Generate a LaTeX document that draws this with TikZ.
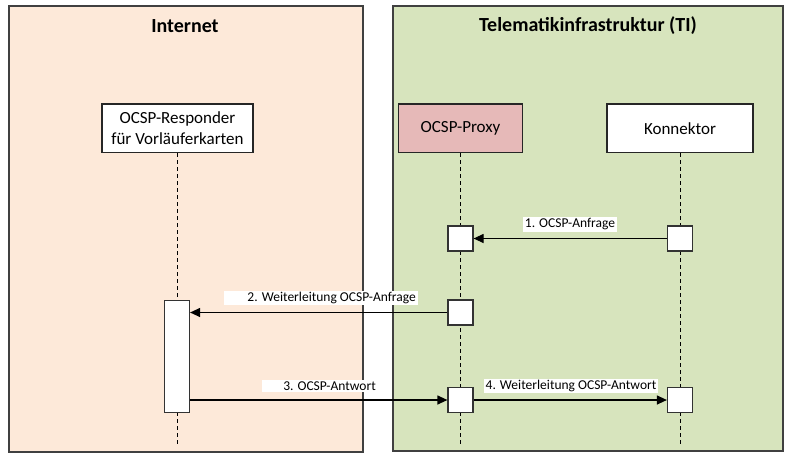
\documentclass[tikz,border=0pt]{standalone}
\usepackage{fontspec}
\setmainfont{Carlito}
\usetikzlibrary{arrows.meta}
\definecolor{pinkbg}{HTML}{FDE9D9}
\definecolor{greenbg}{HTML}{D7E4BD}
\definecolor{proxyfill}{HTML}{E6B9B8}
\definecolor{edgegray}{HTML}{404040}
\begin{document}
\begin{tikzpicture}[x=1pt,y=-1pt,
  panel/.style={draw=edgegray, line width=1.8pt, inner sep=0pt, anchor=north west},
  paneltitle/.style={font=\bfseries\fontsize{20}{24}\selectfont},
  headbox/.style={draw=black!85, line width=1.2pt, fill=white, minimum height=48.5pt,
    font=\fontsize{17}{20.5}\selectfont, align=center, inner sep=0pt},
  actbox/.style={draw=black!80, line width=1.2pt, fill=white, minimum width=25pt,
    minimum height=25pt, inner sep=0pt},
  lifeline/.style={line width=1pt, dash pattern=on 4pt off 3pt},
  msg/.style={-{Triangle[length=10pt,width=9pt]}, line width=1.2pt},
  lbl/.style={fill=white, font=\fontsize{13.5}{16}\selectfont, inner xsep=2pt, inner ysep=1.5pt}
]
\useasboundingbox (0,0) rectangle (785,458);

% panels
\node[panel, fill=pinkbg, minimum width=354pt, minimum height=446pt] (inet) at (8,5) {};
\node[panel, fill=greenbg, minimum width=390pt, minimum height=445pt] (ti) at (392,5) {};
\node[paneltitle] (tinet) at (185,26) {Internet};
\node[paneltitle] (tti) at (588,26) {Telematikinfrastruktur (TI)};

% heads
\node[headbox, minimum width=151pt] (resp) at (177.5,128.3) {OCSP-Responder\\für Vorläuferkarten};
\node[headbox, minimum width=124.5pt, fill=proxyfill] (proxy) at (460.5,128.3) {OCSP-Proxy};
\node[headbox, minimum width=146pt] (konn) at (680,128.3) {Konnektor};

% lifeline ends
\coordinate (rend) at (177,444);
\coordinate (pend) at (460.5,444);
\coordinate (kend) at (680,444);
\draw[lifeline] (resp.south -| rend) -- (rend);
\draw[lifeline] (proxy.south) -- (pend);
\draw[lifeline] (konn.south) -- (kend);

% activation boxes
\node[actbox] (a1) at (460.5,238.5) {};
\node[actbox] (k1) at (680,238.5) {};
\node[actbox] (a2) at (460.5,312.5) {};
\node[actbox, minimum height=112pt] (r) at (177,356.3) {};
\node[actbox] (a3) at (460.5,400) {};
\node[actbox] (k4) at (680,400) {};

% messages
\draw[msg] (k1.west) -- (a1.east);
\draw[msg] (a2.west) -- (a2.west -| r.east);
\draw[msg] (a3.west -| r.east) -- (a3.west);
\draw[msg] (a3.east) -- (k4.west);

% labels
\node[lbl] (l1) at (570,224.5) {1. OCSP-Anfrage};
\node[lbl, anchor=east] (l2) at (418,298) {\hspace{21pt}2. Weiterleitung OCSP-Anfrage};
\node[lbl, anchor=east] (l3) at (378,386) {\hspace{19pt}3. OCSP-Antwort};
\node[lbl] (l4) at (571,386) {4. Weiterleitung OCSP-Antwort};
\end{tikzpicture}
\end{document}
